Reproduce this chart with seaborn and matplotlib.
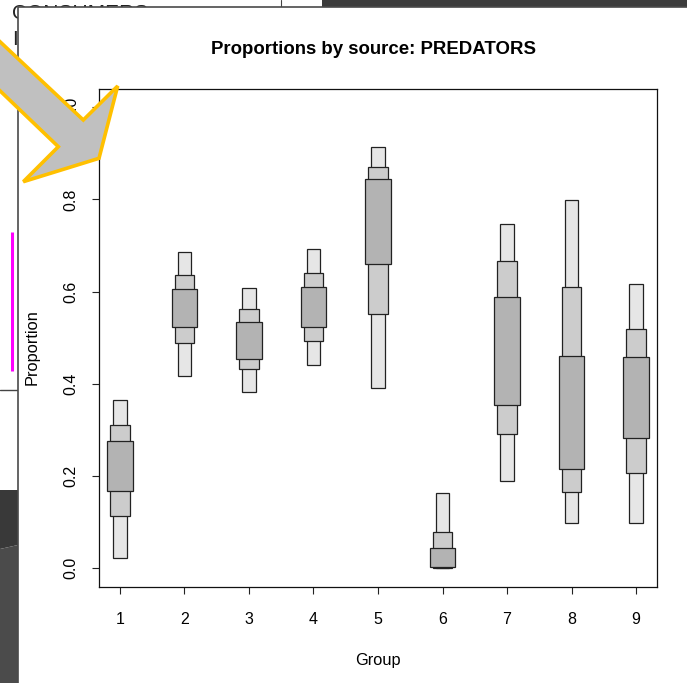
import numpy as np
import pandas as pd
import seaborn as sns
import matplotlib
matplotlib.use("Agg")
import matplotlib.pyplot as plt
from matplotlib.patches import Rectangle, Polygon

# ---- data ----
groups = [1, 2, 3, 4, 5, 6, 7, 8, 9]
lo95 = [0.023, 0.418, 0.383, 0.441, 0.390, 0.000, 0.189, 0.099, 0.099]
lo75 = [0.113, 0.489, 0.433, 0.493, 0.552, 0.001, 0.292, 0.166, 0.207]
lo50 = [0.167, 0.523, 0.454, 0.523, 0.660, 0.003, 0.354, 0.216, 0.283]
hi50 = [0.276, 0.605, 0.533, 0.610, 0.844, 0.043, 0.589, 0.461, 0.459]
hi75 = [0.311, 0.635, 0.562, 0.641, 0.871, 0.079, 0.666, 0.609, 0.518]
hi95 = [0.364, 0.685, 0.608, 0.693, 0.914, 0.164, 0.747, 0.799, 0.616]
yticks = [0.0, 0.2, 0.4, 0.6, 0.8, 1.0]
title = "Proportions by source: PREDATORS"

sns.set_theme(style="white")
plt.rcParams["font.family"] = ["Liberation Sans", "DejaVu Sans"]

W, H = 687, 683
fig = plt.figure(figsize=(W / 100, H / 100), dpi=100)
fig.patch.set_facecolor("white")

# ---- background (screenshot surroundings), pixel coordinates ----
bg = fig.add_axes([0, 0, 1, 1], zorder=0)
bg.set_xlim(0, W)
bg.set_ylim(H, 0)
bg.axis("off")
bg.text(12, 19, "CONSUMERS", fontsize=15, color="#222222", va="baseline", ha="left", zorder=1)
bg.text(12, 45, "I", fontsize=15, color="#222222", va="baseline", ha="left", zorder=1)
bg.plot([12, 12], [232, 371], color="#ff00ff", lw=2.2, zorder=1, solid_capstyle="butt")
bg.plot([0, 18], [390, 390], color="#444444", lw=1, zorder=1)
bg.add_patch(Polygon([[0, 490], [18, 490], [18, 545], [0, 549]], closed=True,
                     facecolor="#393939", edgecolor="none", zorder=1))
bg.add_patch(Polygon([[0, 549], [18, 545], [18, H], [0, H]], closed=True,
                     facecolor="#4b4b4b", edgecolor="none", zorder=1))
bg.add_patch(Rectangle((322, 0), W - 322, 7, facecolor="#3c3c3c", edgecolor="none", zorder=1))
bg.plot([281, 281], [0, 7], color="#444444", lw=0.8, zorder=1)
# plot window
bg.add_patch(Rectangle((17.5, 7), W, H, facecolor="white", edgecolor="#4a4a4a", lw=1.2, zorder=2))

# ---- main plot ----
left, right, top, bottom = 99.3, 656.7, 88.7, 586.7
ax = fig.add_axes([left / W, 1 - bottom / H, (right - left) / W, (bottom - top) / H], zorder=1)
ax.set_facecolor("white")

widths = {"95": 0.21, "75": 0.30, "50": 0.40}
colors = {"95": "#e6e6e6", "75": "#cccccc", "50": "#b3b3b3"}
levels = [("95", lo95, hi95), ("75", lo75, hi75), ("50", lo50, hi50)]
for key, lo, hi in levels:
    lo_a = np.array(lo)
    hi_a = np.array(hi)
    ax.bar(groups, hi_a - lo_a, bottom=lo_a, width=widths[key], color=colors[key],
           edgecolor="#222222", linewidth=0.9, zorder=2)

ax.set_xlim(0.68, 9.32)
ax.set_ylim(-0.04, 1.04)
ax.set_xticks(groups)
ax.set_xticklabels([str(g) for g in groups])
ax.set_yticks(yticks)
ax.set_yticklabels([f"{v:.1f}" for v in yticks], rotation=90, va="center")
ax.tick_params(axis="both", which="major", direction="out", length=5, width=0.8,
               color="#222222", labelsize=11.5, labelcolor="black", bottom=True, left=True)
ax.tick_params(axis="x", pad=13)
ax.tick_params(axis="y", pad=10)
for s in ax.spines.values():
    s.set_visible(True)
    s.set_color("#111111")
    s.set_linewidth(0.9)

ax.set_xlabel("Group", fontsize=11.8, color="black")
ax.xaxis.set_label_coords(0.5, (bottom - 660) / (bottom - top))
ax.xaxis.label.set_va("center")
ax.set_ylabel("Proportion", fontsize=11.8, color="black")
ax.yaxis.set_label_coords((32 - left) / (right - left), (bottom - 347) / (bottom - top))
ax.yaxis.label.set_va("center")

fig.text(373.5 / W, 1 - 49 / H, title, fontsize=13.4, fontweight="bold",
         ha="center", va="center", color="black")

# ---- overlay arrow ----
ov = fig.add_axes([0, 0, 1, 1], zorder=3)
ov.set_xlim(0, W)
ov.set_ylim(H, 0)
ov.axis("off")
ov.patch.set_alpha(0)
arrow = [[-5, 37], [83.3, 120], [117.7, 86], [99, 158.3], [23.3, 181.7], [58.3, 146.7], [-5, 86]]
ov.add_patch(Polygon(arrow, closed=True, facecolor="#c0c0c0", edgecolor="#ffc000",
                     lw=2.6, joinstyle="miter", zorder=3))

fig.savefig("out.png", dpi=100)
